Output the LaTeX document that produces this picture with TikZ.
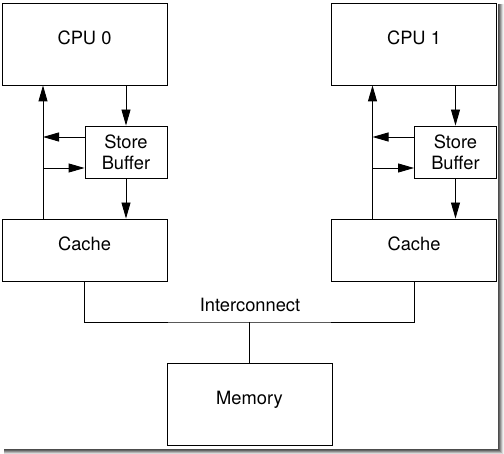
\documentclass[tikz,border=0pt]{standalone}
\usepackage{fontspec}
\setmainfont{TeX Gyre Heros}
\usetikzlibrary{arrows.meta,positioning}
\tikzset{
  bigbox/.style={draw,line width=0.9pt,minimum width=165pt,minimum height=82pt,
                 inner sep=0pt,text height=13pt,text depth=12pt},
  cachebox/.style={bigbox,minimum height=62pt},
  sbbox/.style={draw,line width=0.9pt,minimum width=82pt,minimum height=52pt,
                inner sep=0pt,align=center},
  arr/.style={-{Triangle[length=16pt,width=9pt]},line width=0.9pt},
  wire/.style={line width=0.9pt}
}

\begin{document}
\begin{tikzpicture}[x=1pt,y=-1pt,font=\fontsize{18.3}{21}\selectfont]
        \useasboundingbox (0,0) rectangle (504,454);
        \fill[white] (0,0) rectangle (504,454);
        % Sombra da moldura
        \foreach \d/\g in {0/70,1/60,2/45,3/30,4/15,5/6}{
          \draw[black!\g,line width=1pt] (498.5+\d,4) -- (498.5+\d,454);
          \draw[black!\g,line width=1pt] (4,449.5+\d) -- (498+\d,449.5+\d);
        }
        % CPUs, store buffers e caches
        \foreach \i/\x in {0/84.5, 1/414}{
          \node[bigbox] (cpu\i) at (\x,44) {CPU \i};
          \node[sbbox] (sb\i) at (\x+41.5,152) {Store\\Buffer};
          \node[cachebox] (cache\i) at (\x,250) {Cache};
          \coordinate (up\i) at (\x-41.5,250);
          \draw[arr] (sb\i.north |- cpu\i.south) -- (sb\i.north);
          \draw[arr] (sb\i.south) -- (sb\i.south |- cache\i.north);
          \draw[arr] (up\i |- cache\i.north) -- (up\i |- cpu\i.south);
          \draw[arr] ([yshift=15pt]sb\i.west) -- ([yshift=15pt]sb\i.west -| up\i);
          \draw[arr] ([yshift=-16pt]sb\i.west -| up\i) -- ([yshift=-16pt]sb\i.west);
        }

        % Interconexao
        \coordinate (bus) at (249.5,322);
        \node (ic) at (250,305) {Interconnect};
        \draw[wire] (cache0.south) |- (bus) -| (cache1.south);

        % Memoria
        \node[bigbox] (mem) at (249.5,404) {Memory};
        \draw[wire] (bus) -- (mem.north);
      \end{tikzpicture}
\end{document}
